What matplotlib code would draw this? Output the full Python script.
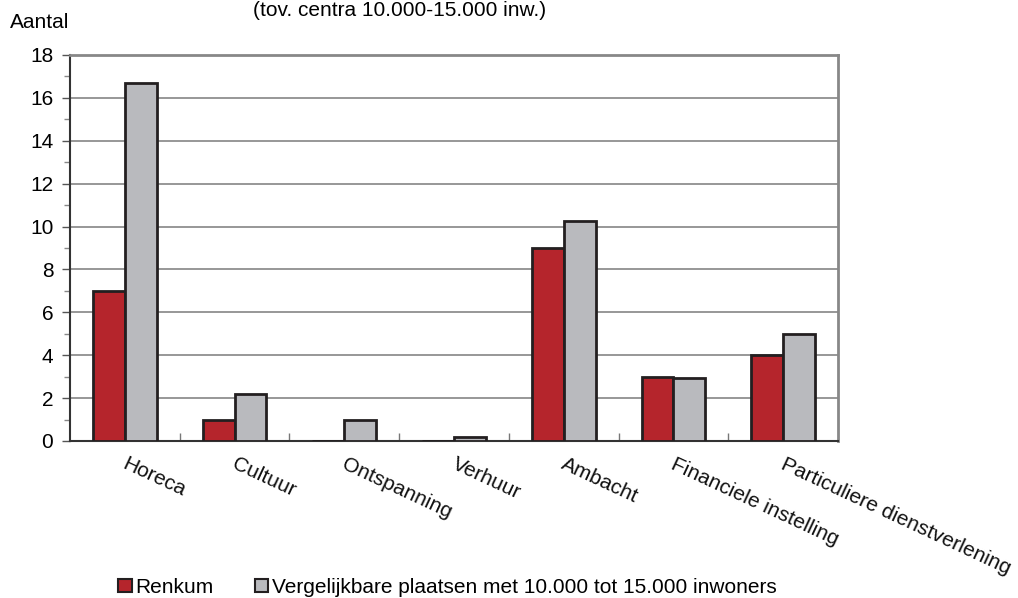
import matplotlib
matplotlib.use("Agg")
import matplotlib.pyplot as plt
from matplotlib.patches import Patch
import numpy as np

plt.rcParams['font.family'] = ['Liberation Sans', 'DejaVu Sans']

categories = ["Horeca", "Cultuur", "Ontspanning", "Verhuur", "Ambacht",
              "Financiele instelling", "Particuliere dienstverlening"]
renkum = [7, 1, 0, 0, 9, 3, 4]
vergelijkbaar = [16.7, 2.2, 1.0, 0.2, 10.25, 2.95, 5.0]
series_names = ["Renkum", "Vergelijkbare plaatsen met 10.000 tot 15.000 inwoners"]
yticks = [0, 2, 4, 6, 8, 10, 12, 14, 16, 18]

red = "#B5252C"
grey = "#B9BABE"
edge = "#231F20"
fs = 15

fig = plt.figure(figsize=(10.18, 5.98), dpi=100)
ax = fig.add_axes([70 / 1018, 1 - 441 / 598, 768 / 1018, 386 / 598])

x = np.arange(len(categories))
w = 0.29
ax.bar(x - w / 2, renkum, width=w, color=red, edgecolor=edge, linewidth=2, zorder=3)
ax.bar(x + w / 2, vergelijkbaar, width=w, color=grey, edgecolor=edge, linewidth=2, zorder=3)

ax.set_xlim(-0.5, len(categories) - 0.5)
ax.set_ylim(0, 18)
ax.set_yticks(yticks)
ax.set_yticks(np.arange(1, 18, 2), minor=True)
ax.yaxis.grid(True, color="#7A7A7A", linewidth=1.1, zorder=0)
ax.tick_params(axis='y', which='major', length=6, width=1, color="#555555",
               labelsize=fs, pad=6)
ax.tick_params(axis='y', which='minor', length=4, width=1, color="#888888")

# category separators on the x axis (small inward ticks)
ax.set_xticks(np.arange(0.5, len(categories) - 0.5, 1))
ax.set_xticklabels([])
ax.tick_params(axis='x', direction='in', length=6, width=1, color="#777777")

for i, lab in enumerate(categories):
    ax.annotate(lab, xy=(i, 0), xycoords=('data', 'axes fraction'),
                xytext=(2, -10), textcoords='offset points',
                rotation=-25, rotation_mode='anchor', ha='left', va='top',
                fontsize=fs, color="#111111")

ax.spines['left'].set_color("#333333")
ax.spines['left'].set_linewidth(1.5)
ax.spines['bottom'].set_color("#333333")
ax.spines['bottom'].set_linewidth(1.5)
ax.spines['top'].set_color("#888888")
ax.spines['top'].set_linewidth(2)
ax.spines['right'].set_color("#888888")
ax.spines['right'].set_linewidth(2)

fig.text(10 / 1018, 1 - 22 / 598, "Aantal", fontsize=fs, va='center', ha='left')
fig.text(400 / 1018, 1 - 1 / 598, "(tov. centra 10.000-15.000 inw.)", fontsize=fs,
         va='top', ha='center')

handles = [Patch(facecolor=red, edgecolor=edge, linewidth=1.5),
           Patch(facecolor=grey, edgecolor=edge, linewidth=1.5)]
fig.legend(handles, series_names, loc='lower left',
           bbox_to_anchor=(110 / 1018, -0.012), ncol=2, frameon=False,
           fontsize=fs, handlelength=0.65, handleheight=0.65,
           handletextpad=0.15, columnspacing=2.0, borderaxespad=0)

fig.savefig("out.png", dpi=100)
